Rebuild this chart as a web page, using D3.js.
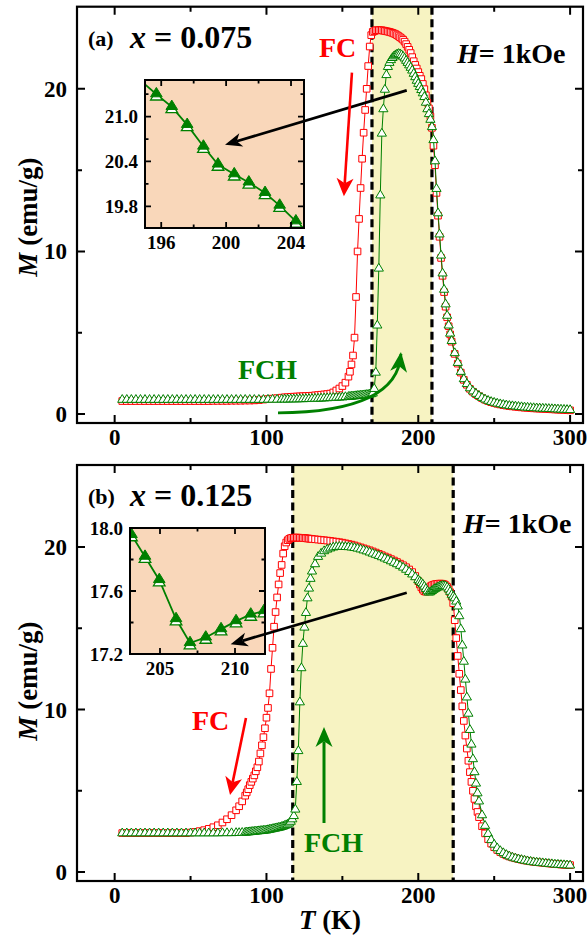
<!DOCTYPE html>
<html>
<head>
<meta charset="utf-8">
<script src="https://cdn.jsdelivr.net/npm/d3@7"></script>
<style>
  body { margin: 0; background: #fff; }
  svg text { font-family: "Liberation Serif", "Times New Roman", serif; font-weight: bold; }
</style>
</head>
<body>
<script>
// ---- data, panel (a) x = 0.075 ----
const tempsA = [5,8,11,14,17,20,23,26,29,32,35,38,41,44,47,50,53,56,59,62,65,68,71,74,77,80,83,86,89,92,95,98,101,104,107,
  110,112,114,116,118,120,122,124,126,128,130,132,134,136,138,140,142,144,146,148,150,152,154,
  155,156,157,158,159,160,161,162,163,164,165,166,167,168,169,170,171,172,173,174,175,176,177,178,179,180,
  181,182,183,184,185,186,187,188,189,190,191,192,193,194,195,196,197,198,199,200,201,202,203,204,205,206,
  207,208,209,210,211,212,213,214,215,216,217,218,219,220,221,222,
  224,226,228,230,232,234,236,238,240,242,244,246,248,250,252,254,256,258,260,262,264,266,268,270,272,274,
  276,278,280,282,284,286,288,290,292,294,296,298,300];
const fcA = [0.80,0.80,0.80,0.80,0.80,0.80,0.80,0.80,0.80,0.80,0.80,0.80,0.80,0.80,0.80,0.80,0.80,0.80,0.80,0.80,
  0.81,0.81,0.81,0.81,0.82,0.82,0.82,0.83,0.83,0.84,0.86,0.89,0.92,0.95,0.98,
  1.01,1.03,1.04,1.06,1.07,1.08,1.09,1.10,1.11,1.12,1.13,1.15,1.17,1.19,1.21,1.23,1.26,1.33,1.45,1.57,1.72,1.93,2.30,
  2.6,3.05,3.6,4.7,7.2,10.0,12.0,13.9,15.7,17.3,18.7,20.0,21.4,22.6,23.3,23.5,23.55,23.6,23.6,23.6,23.6,23.6,
  23.58,23.56,23.54,23.52,23.5,23.47,23.44,23.4,23.36,23.3,23.24,23.17,23.1,23.02,22.9,22.75,22.58,22.4,22.2,
  21.95,21.7,21.47,21.25,21.03,20.8,20.6,20.3,19.98,19.6,19.15,18.8,18.3,17.6,16.5,15.3,13.6,12.2,10.9,9.6,
  8.5,7.5,6.6,5.95,5.4,4.9,4.45,
  3.7,3.1,2.55,2.1,1.8,1.55,1.37,1.22,1.1,0.98,0.88,0.8,0.73,0.68,0.63,0.59,0.55,0.52,0.49,0.47,
  0.45,0.43,0.41,0.39,0.38,0.36,0.35,0.34,0.33,0.32,0.31,0.3,0.29,0.28,0.27,0.26,0.25,0.24,0.23];
const fchA = [0.93,0.93,0.93,0.93,0.93,0.93,0.93,0.93,0.93,0.93,0.93,0.93,0.93,0.93,0.93,0.93,0.93,0.93,0.93,0.93,
  0.93,0.93,0.93,0.93,0.93,0.93,0.93,0.93,0.93,0.93,0.93,0.93,0.94,0.94,0.94,
  0.95,0.95,0.95,0.96,0.96,0.96,0.97,0.97,0.98,0.98,0.99,1.0,1.0,1.01,1.02,1.03,1.04,1.05,1.06,1.07,1.08,1.1,1.11,
  1.12,1.13,1.14,1.15,1.16,1.17,1.18,1.19,1.2,1.21,1.22,1.23,1.24,1.26,1.28,1.32,1.6,2.6,5.5,9.0,13.5,17.3,
  18.8,20.0,20.9,21.4,21.65,21.82,21.95,22.05,22.12,22.17,22.2,22.18,22.12,22.03,21.92,21.78,21.65,21.5,21.35,
  21.18,20.98,20.77,20.55,20.36,20.17,19.98,19.78,19.55,19.2,18.8,18.5,18.15,17.7,16.9,15.6,13.9,12.4,11.1,9.8,
  8.7,7.7,6.8,6.1,5.5,5.0,4.55,
  3.8,3.2,2.65,2.2,1.9,1.64,1.45,1.3,1.17,1.05,0.95,0.87,0.8,0.75,0.7,0.66,0.62,0.59,0.56,0.54,
  0.52,0.5,0.48,0.46,0.45,0.43,0.42,0.41,0.4,0.39,0.38,0.37,0.36,0.35,0.34,0.33,0.32,0.31,0.3];

// ---- data, panel (b) x = 0.125 ----
const tempsB = [5,8,11,14,17,20,23,26,29,32,35,38,41,44,47,50,53,56,59,62,65,68,71,74,77,80,82,84,86,
  87,88,89,90,91,92,93,94,95,96,97,98,99,100,101,102,103,104,105,106,107,108,109,110,111,112,113,114,115,116,
  117,118,119,120,121,122,123,124,125,126,127,128,129,130,
  132,134,136,138,140,142,144,146,148,150,152,154,156,158,160,162,164,166,168,170,172,174,176,178,180,182,184,
  186,188,190,192,194,196,198,200,
  201,202,203,204,205,206,207,208,209,210,211,212,213,214,215,216,217,218,219,220,221,222,223,224,225,226,227,
  228,229,230,231,232,233,234,235,236,237,238,239,240,
  242,244,246,248,250,252,254,256,258,260,262,264,266,268,270,272,274,276,278,280,282,284,286,288,290,292,294,
  296,298,300];
const fcB = [2.4,2.4,2.4,2.4,2.4,2.4,2.4,2.4,2.4,2.4,2.4,2.4,2.4,2.4,2.4,2.43,2.47,2.52,2.58,2.66,2.76,2.88,3.05,3.25,3.5,3.8,
  4.05,4.35,4.7,
  4.9,5.1,5.35,5.55,5.75,5.95,6.2,6.45,6.8,7.3,7.8,8.3,8.85,9.5,10.1,11.0,12.5,13.8,15.1,16.0,
  16.9,17.7,18.4,18.9,19.6,20.05,20.28,20.42,20.5,20.55,20.57,20.58,20.58,20.58,20.58,20.57,20.57,20.56,20.55,20.54,
  20.53,20.52,20.51,20.5,
  20.48,20.46,20.44,20.42,20.4,20.38,20.35,20.33,20.3,20.27,20.23,20.19,20.15,20.1,20.04,19.98,19.92,19.86,19.8,19.73,
  19.66,19.58,19.5,19.42,19.35,19.26,19.17,19.08,18.98,18.88,18.76,18.62,18.46,18.22,17.9,
  17.7,17.52,17.38,17.28,17.25,17.33,17.48,17.58,17.64,17.68,17.71,17.73,17.74,17.75,17.75,17.74,17.71,17.65,17.55,17.4,
  17.22,16.95,16.55,15.5,14.4,13.3,12.2,11.2,10.2,9.3,8.4,7.6,6.85,6.15,5.55,5.0,4.5,4.05,3.7,3.38,
  2.82,2.38,2.02,1.75,1.53,1.36,1.23,1.12,1.03,0.96,0.9,0.85,0.8,0.76,0.72,0.69,0.66,0.63,0.61,0.59,
  0.57,0.55,0.53,0.51,0.49,0.48,0.46,0.45,0.44,0.43];
const fchB = [2.44,2.44,2.44,2.44,2.44,2.44,2.44,2.44,2.44,2.44,2.44,2.44,2.44,2.44,2.44,2.44,2.44,2.44,2.44,2.44,
  2.44,2.44,2.45,2.45,2.45,2.46,
  2.46,2.47,2.48,
  2.49,2.5,2.51,2.52,2.53,2.54,2.55,2.56,2.57,2.58,2.59,2.6,2.61,2.62,2.64,2.66,2.68,2.7,2.72,2.74,
  2.76,2.78,2.8,2.83,2.86,2.9,2.94,2.98,3.05,3.15,3.3,3.5,3.9,5.6,7.5,10.5,12.6,14.1,15.1,16.0,
  16.9,17.5,18.1,18.55,
  19.0,19.45,19.65,19.8,19.9,19.97,20.03,20.06,20.07,20.07,20.06,20.05,20.03,20.0,19.96,19.91,19.85,19.79,19.72,19.65,
  19.58,19.51,19.43,19.35,19.27,19.18,19.09,19.0,18.9,18.79,18.66,18.52,18.37,18.2,18.02,
  17.93,17.84,17.75,17.62,17.48,17.33,17.25,17.28,17.35,17.42,17.48,17.53,17.58,17.62,17.65,17.67,17.67,17.64,17.57,17.45,
  17.3,17.12,17.0,16.9,16.7,16.4,15.8,15.0,14.0,13.0,11.9,10.8,9.8,8.8,7.9,7.0,6.2,5.5,4.9,4.4,
  3.55,2.9,2.4,2.02,1.74,1.52,1.35,1.22,1.11,1.02,0.95,0.89,0.84,0.8,0.76,0.72,0.69,0.66,0.64,0.62,
  0.6,0.58,0.56,0.54,0.52,0.51,0.49,0.48,0.47,0.46];

// ---- inset data (FCH, zoomed) ----
const insetTempsA = [194.8,195.7,196.65,197.6,198.6,199.5,200.5,201.4,202.4,203.3,204.3,205.2];
const insetFchA = [21.47,21.30,21.13,20.89,20.60,20.36,20.23,20.12,19.98,19.81,19.60,19.42];
const insetTempsB = [202.9,203.1,204.0,204.95,206.07,207.0,208.05,209.07,210.07,211.05,211.93,212.9];
const insetFchB = [18.02,17.956,17.818,17.670,17.422,17.27,17.305,17.358,17.409,17.451,17.473,17.49];

// ---- ticks ----
const tMajor = [0, 100, 200, 300];
const tMinor = [50, 150, 250];
const mMajor = [0, 10, 20];
const mMinor = [5, 15];

const red = '#ff0000';
const green = '#008000';

const svg = d3.select('body').append('svg')
  .attr('width', 587)
  .attr('height', 942);

const x = d3.scaleLinear().domain([-24.8, 308.5]).range([77, 583]);

// four-sided inward ticks
const boxTicks = (g, xs, ys, o) => {
  const [l, r] = xs.range();
  const [b, t] = ys.range();
  const p = d3.path();
  const vx = (v, len) => { const px = xs(v); p.moveTo(px, b); p.lineTo(px, b - len); p.moveTo(px, t); p.lineTo(px, t + len); };
  const hy = (v, len) => { const py = ys(v); p.moveTo(l, py); p.lineTo(l + len, py); p.moveTo(r, py); p.lineTo(r - len, py); };
  o.xMajor.forEach(v => vx(v, o.maj));
  o.xMinor.forEach(v => vx(v, o.min));
  o.yMajor.forEach(v => hy(v, o.maj));
  o.yMinor.forEach(v => hy(v, o.min));
  g.append('path').attr('d', p.toString())
    .attr('fill', 'none').attr('stroke', '#000').attr('stroke-width', o.sw);

  g.selectAll('.xl').data(o.xMajor).enter().append('text')
    .attr('x', d => xs(d)).attr('y', b + o.xOff)
    .attr('text-anchor', 'middle').attr('font-size', o.fs)
    .text(d => o.xFmt(d));
  g.selectAll('.yl').data(o.yMajor).enter().append('text')
    .attr('x', l - o.yOff).attr('y', d => ys(d)).attr('dy', '0.35em')
    .attr('text-anchor', 'end').attr('font-size', o.fs)
    .text(d => o.yFmt(d));

  g.append('rect').attr('x', l).attr('y', t).attr('width', r - l).attr('height', b - t)
    .attr('fill', 'none').attr('stroke', '#000').attr('stroke-width', o.frame);
};

// notched arrow head at (x2,y2)
const arrow = (g, x1, y1, x2, y2, color, sw, len, w) => {
  const a = Math.atan2(y2 - y1, x2 - x1);
  const ca = Math.cos(a), sa = Math.sin(a);
  const pt = (u, v) => [x2 + u * ca - v * sa, y2 + u * sa + v * ca];
  const n = pt(-len * 0.72, 0);
  g.append('line').attr('x1', x1).attr('y1', y1).attr('x2', n[0]).attr('y2', n[1])
    .attr('stroke', color).attr('stroke-width', sw);
  g.append('path')
    .attr('d', 'M' + [pt(0, 0), pt(-len, w / 2), n, pt(-len, -w / 2)].map(q => q.join(',')).join('L') + 'Z')
    .attr('fill', color);
};

const sqPath = 'M-3.3,-3.3h6.6v6.6h-6.6Z';
const triPath = 'M0,-4.4L4.6,3.4L-4.6,3.4Z';

const drawPanel = (p) => {
  const y = d3.scaleLinear().domain([-0.55, 25.05]).range([p.bottom, p.top]);
  const g = svg.append('g');
  const [l, r] = x.range();

  // shaded region between the two transitions
  g.append('rect')
    .attr('x', x(p.band[0])).attr('y', p.top)
    .attr('width', x(p.band[1]) - x(p.band[0])).attr('height', p.bottom - p.top)
    .attr('fill', '#f7f3c2');
  g.selectAll('.dash').data(p.band).enter().append('line')
    .attr('x1', d => x(d)).attr('x2', d => x(d))
    .attr('y1', p.top).attr('y2', p.bottom)
    .attr('stroke', '#000').attr('stroke-width', 3.2).attr('stroke-dasharray', '8,4.5');

  const fc = p.temps.map((t, i) => [t, p.fc[i]]);
  const fch = p.temps.map((t, i) => [t, p.fch[i]]);
  const line = d3.line().x(d => x(d[0])).y(d => y(d[1]));

  g.append('path').datum(fc).attr('d', line)
    .attr('fill', 'none').attr('stroke', red).attr('stroke-width', 1);
  g.append('g').selectAll('path').data(fc).enter().append('path')
    .attr('d', sqPath)
    .attr('transform', d => `translate(${x(d[0])},${y(d[1])})`)
    .attr('fill', '#fff').attr('stroke', red).attr('stroke-width', 1);

  g.append('path').datum(fch).attr('d', line)
    .attr('fill', 'none').attr('stroke', green).attr('stroke-width', 1);
  g.append('g').selectAll('path').data(fch).enter().append('path')
    .attr('d', triPath)
    .attr('transform', d => `translate(${x(d[0])},${y(d[1])})`)
    .attr('fill', '#fff').attr('stroke', green).attr('stroke-width', 1);

  boxTicks(g, x, y, {
    xMajor: tMajor, xMinor: tMinor, yMajor: mMajor, yMinor: mMinor,
    maj: 8, min: 5, sw: 2, frame: 2.2, fs: 23, xOff: 22, yOff: 10,
    xFmt: d => d, yFmt: d => d
  });

  // inset
  const ins = p.inset;
  const ix = d3.scaleLinear().domain(ins.xd).range([ins.box[0], ins.box[2]]);
  const iy = d3.scaleLinear().domain(ins.yd).range([ins.box[3], ins.box[1]]);
  const ig = g.append('g');
  ig.append('rect').attr('x', ins.box[0]).attr('y', ins.box[1])
    .attr('width', ins.box[2] - ins.box[0]).attr('height', ins.box[3] - ins.box[1])
    .attr('fill', '#f9d7ba');
  svg.append('clipPath').attr('id', ins.id).append('rect')
    .attr('x', ins.box[0]).attr('y', ins.box[1])
    .attr('width', ins.box[2] - ins.box[0]).attr('height', ins.box[3] - ins.box[1]);
  const cg = ig.append('g').attr('clip-path', `url(#${ins.id})`);
  const ipts = ins.temps.map((t, i) => [t, ins.vals[i]]);
  cg.append('path').datum(ipts)
    .attr('d', d3.line().x(d => ix(d[0])).y(d => iy(d[1])))
    .attr('fill', 'none').attr('stroke', green).attr('stroke-width', 1.8);
  const inside = ipts.filter(d => d[0] >= ins.xd[0] && d[0] <= ins.xd[1]);
  const big = 'M0,-5.2L5.8,4.2L-5.8,4.2Z';
  cg.selectAll('.io').data(inside).enter().append('path')
    .attr('d', big)
    .attr('transform', d => `translate(${ix(d[0])},${iy(d[1]) + 1.6})`)
    .attr('fill', '#fff').attr('stroke', green).attr('stroke-width', 1.3);
  cg.selectAll('.if').data(inside).enter().append('path')
    .attr('d', big)
    .attr('transform', d => `translate(${ix(d[0])},${iy(d[1]) - 1.6})`)
    .attr('fill', green).attr('stroke', green).attr('stroke-width', 1);
  boxTicks(ig, ix, iy, {
    xMajor: ins.xMajor, xMinor: ins.xMinor, yMajor: ins.yMajor, yMinor: ins.yMinor,
    maj: 6, min: 3.5, sw: 1.8, frame: 2, fs: 19, xOff: 21, yOff: 7,
    xFmt: d => d, yFmt: d => d.toFixed(1)
  });

  // annotations
  const a = p.notes;
  arrow(g, x(a.black[0]), y(a.black[1]), x(a.black[2]), y(a.black[3]), '#000', 2.8, 17, 14);
  arrow(g, x(a.red[0]), y(a.red[1]), x(a.red[2]), y(a.red[3]), red, 2.6, 18, 17);
  if (a.curve) {
    const c = a.curve;
    const p0 = [x(c[0]), y(c[1])], p1 = [x(c[2]), y(c[3])], p2 = [x(c[4]), y(c[5])];
    g.append('path').attr('d', `M${p0}Q${p1} ${p2}`)
      .attr('fill', 'none').attr('stroke', green).attr('stroke-width', 2.8);
    arrow(g, p1[0], p1[1] - (p1[1] - p2[1]) * 0.6, p2[0], p2[1] - 2, green, 0, 20, 17);
  }
  if (a.green) {
    arrow(g, x(a.green[0]), y(a.green[1]), x(a.green[2]), y(a.green[3]), green, 3, 20, 17);
  }

  g.append('text').attr('x', l + 11).attr('y', p.top + 39).attr('font-size', 22).text(p.tag);
  const xt = g.append('text').attr('x', 130).attr('y', p.top + 41).attr('font-size', 32);
  xt.append('tspan').attr('font-style', 'italic').text('x');
  xt.append('tspan').text(' = ' + p.comp);

  const ht = g.append('text').attr('x', p.hPos[0]).attr('y', p.hPos[1]).attr('font-size', 28);
  ht.append('tspan').attr('font-style', 'italic').text('H');
  ht.append('tspan').text('= 1kOe');

  g.append('text').attr('x', p.fcPos[0]).attr('y', p.fcPos[1]).attr('font-size', 28)
    .attr('fill', red).text('FC');
  g.append('text').attr('x', p.fchPos[0]).attr('y', p.fchPos[1]).attr('font-size', 28)
    .attr('fill', green).text('FCH');

  const yl = g.append('text')
    .attr('transform', `translate(37,${p.yLabel}) rotate(-90)`)
    .attr('text-anchor', 'middle').attr('font-size', 27);
  yl.append('tspan').attr('font-style', 'italic').text('M');
  yl.append('tspan').text(' (emu/g)');
};

drawPanel({
  top: 6.7, bottom: 423, temps: tempsA, fc: fcA, fch: fchA,
  band: [169.5, 209], tag: '(a)', comp: '0.075',
  hPos: [457, 63], fcPos: [319, 57], fchPos: [238, 379], yLabel: 217,
  inset: {
    id: 'clipA', box: [145, 80, 304, 228], xd: [195.0, 204.8], yd: [19.51, 21.49],
    temps: insetTempsA, vals: insetFchA,
    xMajor: [196, 200, 204], xMinor: [198, 202], yMajor: [19.8, 20.4, 21.0], yMinor: [20.1, 20.7, 21.3]
  },
  notes: {
    black: [192.4, 19.9, 72.7, 16.56],
    red: [156.3, 21.0, 151.0, 13.4],
    curve: [107.6, 0.07, 186.6, 0.13, 188.6, 3.7]
  }
});

drawPanel({
  top: 465, bottom: 881, temps: tempsB, fc: fcB, fch: fchB,
  band: [117.3, 223], tag: '(b)', comp: '0.125',
  hPos: [463, 533], fcPos: [192, 730], fchPos: [304, 852], yLabel: 681,
  inset: {
    id: 'clipB', box: [130, 528, 265, 654], xd: [203, 212], yd: [17.2, 18.0],
    temps: insetTempsB, vals: insetFchB,
    xMajor: [205, 210], xMinor: [207.5], yMajor: [17.2, 17.6, 18.0], yMinor: [17.4, 17.8]
  },
  notes: {
    black: [192.4, 17.19, 76.4, 14.02],
    red: [86.5, 9.48, 76.0, 4.74],
    green: [137.9, 3.02, 137.9, 8.93]
  }
});

const tl = svg.append('text').attr('x', 330).attr('y', 929)
  .attr('text-anchor', 'middle').attr('font-size', 27);
tl.append('tspan').attr('font-style', 'italic').text('T');
tl.append('tspan').text(' (K)');
</script>
</body>
</html>
